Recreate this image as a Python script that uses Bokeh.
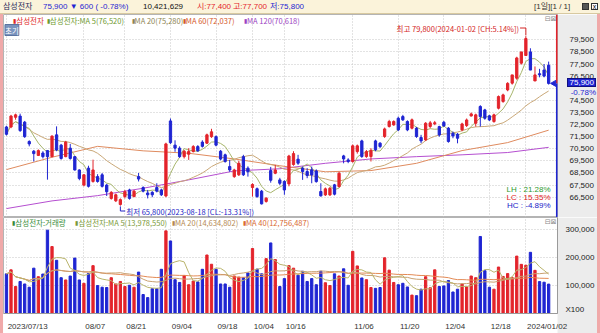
import numpy as np
import pandas as pd
from bokeh.plotting import figure
from bokeh.models import (Range1d, FixedTicker, NumeralTickFormatter, Label, Div,
                          ColumnDataSource, CustomJSTickFormatter, AllLabels)
from bokeh.layouts import column, row
from bokeh.embed import file_html
from bokeh.resources import INLINE

# ---------------- data ----------------
stock_name = "삼성전자"
date_idx = [0, 17, 26, 36, 46, 54, 61, 76, 86, 96, 106, 114]
date_labels = ["2023/07/13", "08/07", "08/21", "09/04", "09/18", "10/04",
               "10/16", "11/06", "11/20", "12/04", "12/18", "2024/01/02"]
price_ticks = [66500, 67500, 68500, 69500, 70500, 71500, 72500, 73500,
               74500, 75500, 76500, 77500, 78500, 79500]
vol_ticks = [100000, 200000, 300000]

opens = [72300, 72300, 73100, 73200, 72700, 71100, 70300, 69950, 70150, 70350,
         69850, 71650, 70800, 69850, 70550, 69850, 68750, 67500, 68900, 67800,
         68200, 68350, 67500, 66400, 66200, 65900, 66550, 67100, 66550, 68200,
         67300, 66850, 66900, 67300, 67100, 66600, 72800, 70800, 70550, 69850,
         70050, 70270, 70680, 71050, 70960, 71500, 71500, 70300, 70000, 69030,
         68200, 68350, 69850, 68900, 67300, 67200, 67000, 66150, 68700, 68480,
         67930, 67800, 67600, 69200,
         69640, 68900, 68620, 68760, 68670, 66970, 66690, 66690, 67520, 67380,
         69910, 69580, 69450, 70270, 71150, 69860, 69860, 71150, 70960, 71510,
         72340, 72470, 73020, 73160, 72750, 72200, 72200, 71430, 71230, 72340,
         72560, 72330, 72690, 72200, 71780, 71700, 72060, 72420, 73210, 72610,
         73990, 73710, 73220, 72750, 73850, 74400, 75360, 75920, 76330, 77570,
         78200, 78500, 76100, 76700, 77000, 77400]
highs = [72400, 73300, 73400, 73400, 72800, 71200, 70400, 70450, 70300, 70400,
         71600, 72350, 70900, 71150, 70900, 69900, 68800, 68400, 69100, 69600,
         68400, 68500, 67600, 67000, 66800, 66400, 67100, 67200, 67100, 68500,
         67400, 67100, 67000, 67650, 67200, 71000, 73000, 71200, 70700, 70400,
         70550, 70800, 70800, 71200, 71750, 72150, 71600, 70400, 70100, 69580,
         68850, 69500, 70000, 69050, 67650, 67300, 67100, 66500, 69000, 69170,
         68100, 67900, 70000, 70300,
         70000, 69030, 68900, 69030, 68800, 67650, 67300, 67350, 67600, 68600,
         70000, 69720, 70850, 70850, 71250, 70400, 70550, 71250, 71050, 72250,
         72890, 72850, 73160, 73300, 72850, 73000, 72300, 71650, 72700, 72800,
         72800, 72400, 72800, 72300, 71920, 71800, 72650, 73000, 73490, 73400,
         74100, 73800, 73300, 73400, 74900, 75050, 76000, 76600, 78100, 78500,
         79800, 78800, 77300, 77100, 77500, 77700]
lows = [71600, 72200, 72900, 71900, 71400, 70700, 69450, 69900, 69700, 67950,
        69800, 70300, 69600, 69800, 69600, 68700, 67900, 67400, 67300, 67700,
        67700, 67300, 66600, 66300, 66100, 65800, 66400, 66300, 66500, 67800,
        66900, 66400, 66500, 66900, 66600, 66500, 70900, 70250, 69750, 69700,
        69580, 70200, 70250, 70600, 70900, 71400, 70700, 69550, 69350, 68600,
        68100, 68250, 68250, 68200, 66550, 66450, 65900, 66050, 67700, 68400,
        67500, 66700, 67400, 69100,
        69170, 67930, 68070, 67650, 67700, 66550, 66600, 66600, 66650, 67300,
        69300, 69310, 69350, 70100, 69750, 69750, 69450, 70300, 70550, 71400,
        72250, 72400, 71950, 72800, 71950, 72100, 71400, 70960, 71150, 72200,
        72450, 71500, 72300, 71000, 71370, 70950, 71950, 72300, 73160, 72330,
        72330, 72900, 72800, 72650, 73750, 74300, 75250, 75800, 76200, 77450,
        78200, 77000, 76100, 76400, 76400, 75800]
closes = [71700, 73200, 73300, 72000, 71500, 70900, 70100, 70350, 69850, 69850,
          71550, 70400, 69700, 71050, 69700, 68750, 68050, 68350, 67400, 68750,
          67800, 67400, 66950, 66900, 66700, 66300, 66950, 66400, 67000, 68000,
          67000, 66700, 66700, 67000, 66700, 70900, 71000, 70550, 69850, 70300,
          70270, 70680, 70330, 70700, 71650, 71900, 70800, 69650, 69450, 68750,
          68750, 69300, 68350, 68600, 67550, 66550, 65950, 66420, 67900, 68750,
          67650, 67100, 69900, 70100,
          69310, 68620, 68290, 68340, 67790, 66610, 67190, 67240, 66750, 68480,
          69660, 69450, 70740, 70740, 69860, 70270, 70350, 70410, 70680, 72140,
          72750, 72750, 72060, 72890, 72060, 72890, 71510, 71150, 72610, 72640,
          72650, 71640, 72390, 71100, 71560, 71370, 72550, 72880, 73380, 73300,
          73160, 73020, 72880, 73300, 74810, 74950, 75900, 76600, 78000, 78500,
          79600, 77000, 76600, 76600, 76500, 75900]
# volume in units of 100 shares
volumes = [140700, 155000, 95600, 113600, 104600, 93000, 161000, 130500, 140000, 296600,
           238000, 189000, 127000, 119000, 133000, 197000, 119000, 107000, 141600, 170000,
           99000, 93000, 92000, 127000, 104600, 113600, 95600, 100000, 93000, 147000,
           67000, 56000, 88000, 88000, 157000, 294000, 258000, 120000, 110000, 135000,
           102000, 115000, 112000, 157000, 208000, 175000, 157000, 104600, 104600, 93000,
           133000, 129000, 127000, 144000, 231000, 157600, 140700, 195000, 251000, 191500,
           95600, 123700, 170000, 161000,
           136000, 150000, 113600, 123700, 102000, 150000, 109000, 99000, 140700, 133000,
           158700, 100000, 221000, 169000, 126000, 120000, 92000, 89000, 92000, 198000,
           154000, 110000, 102000, 107000, 94000, 65000, 63000, 86000, 130500, 91000,
           155000, 95600, 97600, 117000, 76000, 86000, 104600, 94000, 133000, 127000,
           274000, 152000, 93000, 86000, 165000, 131500, 141600, 127000, 204000, 174600,
           171428.47, 217536.44, 153244.39, 113043.16, 110887.24, 104216.29]
# long moving averages at every 10th session
ma60_idx = [0, 10, 20, 30, 40, 50, 60, 70, 80, 90, 100, 110, 119]
ma60_val = [68780, 69800, 70700, 70330, 70130, 69660, 69100, 68600, 68700, 69300, 70350, 71010, 72037]
ma120_idx = [0, 10, 20, 30, 40, 50, 60, 70, 80, 90, 100, 110, 119]
ma120_val = [65560, 66195, 66630, 67240, 67930, 68670, 68850, 69300, 69660, 69850, 70000, 70190, 70618]
hi_date = "2024-01-02"
lo_date = "2023-08-18"
legend_price = ["삼성전자", "삼성전자:MA 5(76,520)", "MA 20(75,280)", "MA 60(72,037)", "MA 120(70,618)"]
legend_vol = ["삼성전자:거래량", "삼성전자:MA 5(13,978,550)", "MA 20(14,634,802)", "MA 40(12,756,487)"]
vol_unit_label = "X100"

# ---------------- styling / layout helpers ----------------
RED = "#e3232b"
BLUE = "#1f25d2"
PINK = "#f0a9a9"
GRAYBG = "#ececec"
GRID = "#c6c6c6"
KR = "Noto Sans CJK KR"
LAT = "Liberation Sans"
MA5C, MA20C, MA60C, MA120C = "#a7b56c", "#c9a777", "#df8b5f", "#b54fd0"
VMA5C, VMA20C, VMA40C = "#b9b46c", "#c9a070", "#e38a55"

PX0, PXS = 6.0, 4.622          # page x of first session, px per session


def xi(px):
    return (px - PX0) / PXS


def yp(py):                    # page y -> price
    return 79500 - (py - 39.3) * 82.59


def py_of(price):              # price -> page y
    return 39.3 + (79500 - price) / 82.59


def yv(py):                    # page y -> volume
    return (317.8 - py) / 0.000295


X_START, X_END = xi(3), xi(565)

n = len(closes)
idx = np.arange(n)
o = np.array(opens, float)
c = np.array(closes, float)
h = np.array(highs, float)
l = np.array(lows, float)
vol = np.array(volumes, float)
colors = np.where(c >= o, RED, BLUE)
src = ColumnDataSource(dict(x=idx, top=np.maximum(o, c), bot=np.minimum(o, c), h=h, l=l,
                            color=colors, vol=vol))

ma5 = pd.Series(c).rolling(5, min_periods=1).mean()
ma20 = pd.Series(c).rolling(20, min_periods=1).mean()
vma5 = pd.Series(vol).rolling(5, min_periods=1).mean()
vma20 = pd.Series(vol).rolling(20, min_periods=1).mean()
vma40 = pd.Series(vol).rolling(40, min_periods=1).mean()


def lab(fig, x, y, text, color, size="7.5px", font=KR, align="left", **kw):
    fig.add_layout(Label(x=x, y=y, text=text, text_color=color, text_font_size=size,
                         text_font=font, text_align=align, text_baseline="middle", **kw))


# ---------------- price pane ----------------
p = figure(width=594, height=203, x_range=Range1d(X_START, X_END),
           y_range=Range1d(yp(217), yp(14)), x_axis_location=None, y_axis_location="right",
           toolbar_location=None, output_backend="svg",
           min_border_left=0, min_border_right=32, min_border_top=0, min_border_bottom=0,
           border_fill_color=GRAYBG, background_fill_color="white", outline_line_color="#b4b4b4")
p.xgrid.ticker = FixedTicker(ticks=date_idx)
p.ygrid.ticker = FixedTicker(ticks=price_ticks)
for g in (p.xgrid, p.ygrid):
    g.grid_line_color = GRID
    g.grid_line_dash = "1 2"
ax = p.yaxis[0]
ax.ticker = FixedTicker(ticks=[t for t in price_ticks if abs(t - c[-1]) > 450])
ax.formatter = NumeralTickFormatter(format="0,0")
ax.major_tick_line_color = None
ax.minor_tick_line_color = None
ax.axis_line_color = None
ax.major_label_standoff = 6
ax.major_label_text_font = LAT
ax.major_label_text_font_size = "8px"
ax.major_label_text_color = "#222222"

p.line(ma120_idx, ma120_val, color=MA120C, line_width=1)
p.line(ma60_idx, ma60_val, color=MA60C, line_width=1)
p.line(idx, ma20, color=MA20C, line_width=1)
p.line(idx, ma5, color=MA5C, line_width=1)
p.segment(x0="x", y0="l", x1="x", y1="h", line_color="color", line_width=1, source=src)
p.vbar(x="x", width=0.5, top="top", bottom="bot", fill_color="color", line_color="color",
       line_width=1, source=src)

# current price marker on the right edge
last = c[-1]
p.segment(x0=[X_END - 0.12], y0=[last], x1=[X_END - 0.12], y1=[yp(14)], line_color=RED, line_width=2)
p.segment(x0=[X_END - 0.12], y0=[yp(217)], x1=[X_END - 0.12], y1=[last], line_color=BLUE, line_width=2)
p.scatter(x=[xi(561.5)], y=[last], marker="triangle", angle=np.pi / 2, size=6,
          fill_color=BLUE, line_color=BLUE)

# legend
ly = yp(19.5)
pcols = ["#e02828", "#6f9a30", "#8e8452", "#d4582a", "#9c3fc2"]
psq = [13, 47, 133, 185, 247]
for s, col, px in zip(legend_price, pcols, psq):
    lab(p, xi(px), ly, "▮", col, size="6px")
    lab(p, xi(px + 3), ly, s, col)
lab(p, xi(4.5), yp(29.5), "초기", "white", size="7.5px", background_fill_color="#7a93bd",
    border_line_color="#5a73a0")
lab(p, xi(552), yp(18.5), "⊟⊠", "#8a8a8a", size="7px", font="DejaVu Sans")

# high / low annotations
hi_i = int(np.argmax(h)); lo_i = int(np.argmin(l))
hi, lo = h[hi_i], l[lo_i]
ch = (hi / last - 1) * 100
cl = (lo / last - 1) * 100
lab(p, xi(526), yp(27.5), f"최고 {hi:,.0f}({hi_date} [CH:{ch:.2f}%])", "#d42424", align="right")
p.line([xi(527), hi_i, hi_i], [yp(27.5), yp(27.5), hi + 60], color="#d42424", line_width=1)
lab(p, xi(127.5), yp(210.5), f"최저 {lo:,.0f}({lo_date} [CL:{cl:.2f}%])", "#2424c4")
p.line([lo_i, lo_i, xi(126.5)], [lo - 60, yp(210.5), yp(210.5)], color="#2424c4", line_width=1)

lh = (hi / lo - 1) * 100
lc = (last / lo - 1) * 100
hc = (last / hi - 1) * 100
lab(p, xi(558), yp(188.5), f"LH : {lh:.2f}%", "#2e9a2e", size="8px", font=LAT, align="right")
lab(p, xi(558), yp(196.8), f"LC : {lc:.2f}%", "#e02222", size="8px", font=LAT, align="right")
lab(p, xi(558), yp(205.2), f"HC : {hc:.2f}%", "#2222c8", size="8px", font=LAT, align="right")

prev = c[-2]
pct = (last - prev) / prev * 100

# ---------------- volume pane ----------------
v = figure(width=594, height=116, x_range=p.x_range, y_range=Range1d(yv(318), yv(217)),
           y_axis_location="right", toolbar_location=None, output_backend="svg",
           min_border_left=0, min_border_right=32, min_border_top=0, min_border_bottom=15,
           border_fill_color=GRAYBG, background_fill_color="white", outline_line_color="#b4b4b4")
v.xgrid.ticker = FixedTicker(ticks=date_idx)
v.ygrid.ticker = FixedTicker(ticks=vol_ticks)
for g in (v.xgrid, v.ygrid):
    g.grid_line_color = GRID
    g.grid_line_dash = "1 2"

unit_pos = yv(313.5)
vy = v.yaxis[0]
vy.ticker = FixedTicker(ticks=vol_ticks + [unit_pos])
vy.formatter = CustomJSTickFormatter(args=dict(up=unit_pos, ul=vol_unit_label), code="""
if (Math.abs(tick - up) < 1e-6) return ul;
return Math.round(tick).toLocaleString("en-US");
""")
vy.major_label_policy = AllLabels()
vy.major_tick_line_color = None
vy.minor_tick_line_color = None
vy.axis_line_color = "#9a9a9a"
vy.major_label_standoff = 2
vy.major_label_text_font = LAT
vy.major_label_text_font_size = "8px"
vy.major_label_text_color = "#222222"

# date labels start just right of their grid line
def text_w(s):
    return sum(2.22 if ch_ in "/" else 4.45 for ch_ in s)

lab_pos = [xi(PX0 + PXS * i0 + 1.5 + text_w(s) / 2) for i0, s in zip(date_idx, date_labels)]
vx = v.xaxis[0]
vx.ticker = FixedTicker(ticks=lab_pos)
vx.formatter = CustomJSTickFormatter(args=dict(pos=lab_pos, labs=date_labels), code="""
for (let k = 0; k < pos.length; k++) { if (Math.abs(pos[k] - tick) < 1e-6) return labs[k]; }
return "";
""")
vx.major_label_policy = AllLabels()
vx.major_tick_line_color = None
vx.minor_tick_line_color = None
vx.axis_line_color = "#9a9a9a"
vx.major_label_standoff = 2
vx.major_label_text_font = LAT
vx.major_label_text_font_size = "8px"
vx.major_label_text_color = "#333333"
try:
    vx.background_fill_color = "white"
except Exception:
    pass

v.vbar(x="x", width=0.5, top="vol", bottom=0, fill_color="color", line_color="color",
       line_width=1, source=src)
v.line(idx, vma40, color=VMA40C, line_width=1)
v.line(idx, vma20, color=VMA20C, line_width=1)
v.line(idx, vma5, color=VMA5C, line_width=1)

vly = yv(222.3)
vcols = ["#3a8c3a", "#7c9a3a", "#b68a52", "#da6a32"]
vsq = [12, 76, 174, 246]
for s, col, px in zip(legend_vol, vcols, vsq):
    lab(v, xi(px), vly, "▮", col, size="6px")
    lab(v, xi(px + 3), vly, s, col)
lab(v, xi(552), yv(222), "⊟⊠", "#8a8a8a", size="7px", font="DejaVu Sans")

# ---------------- header ----------------
chg = last - prev
arrow = "▼" if chg < 0 else "▲"
hdr_col = BLUE if chg < 0 else RED
o_l, h_l, l_l = o[-1], h[-1], l[-1]


def pc(x):
    return RED if x > prev else (BLUE if x < prev else "#222")


spans = [
    (3, "#2a2a5a", stock_name),
    (43, hdr_col, f"{last:,.0f} {arrow} {abs(chg):,.0f} ( {pct:.2f}%)"),
    (143, "#111111", f"{vol[-1] * 100:,.0f}"),
    (197, pc(o_l), f"시:{o_l:,.0f}"),
    (233, pc(h_l), f"고:{h_l:,.0f}"),
    (270, pc(l_l), f"저:{l_l:,.0f}"),
    (534, "#333333", "[1일][1 / 1]"),
]
inner = "".join(
    f'<span style="position:absolute;left:{x}px;top:0px;color:{col}">{t}</span>' for x, col, t in spans)
inner += ('<span style="position:absolute;left:582px;top:3px;width:7px;height:7px;background:#555;'
          'border:1px solid #333;box-sizing:border-box"></span>'
          '<span style="position:absolute;left:591px;top:3px;width:7px;height:7px;background:#fff;'
          'border:1px solid #333;box-sizing:border-box;font-size:7px;line-height:5px;text-align:center">x</span>')
header = Div(text=f'<div style="position:relative;width:600px;height:14px;font-family:{LAT},\'{KR}\';'
                  f'font-size:8px;line-height:13px;white-space:nowrap">{inner}</div>',
             width=600, height=14, margin=0,
             styles={"background-color": "#fbf3da", "border-bottom": "1px solid #d8c9a0",
                     "box-sizing": "border-box", "overflow": "hidden"})

# current-price box and change in the right axis strip (overlay from the right border)
box_top = py_of(last) - 14 - 4.5
pct_top = 92 - 14 - 4.5
overlay = (f'<div style="position:relative;width:3px;height:319px;font-family:{LAT};font-size:8px;'
           f'line-height:9px;white-space:nowrap">'
           f'<span style="position:absolute;left:-30px;top:{box_top:.1f}px;width:29px;height:9px;'
           f'background:{BLUE};color:white;text-align:right;padding-right:1px;'
           f'border:1px solid #101080;box-sizing:border-box;line-height:7px">{last:,.0f}</span>'
           f'<span style="position:absolute;left:-32px;top:{pct_top:.1f}px;width:31px;'
           f'color:{BLUE};text-align:right">{pct:.2f}%</span></div>')

left = Div(text="", width=3, height=319, margin=0, styles={"background-color": PINK})
right = Div(text=overlay, width=3, height=319, margin=0,
            styles={"background-color": PINK, "overflow": "visible", "z-index": "20"})
page = column(header, row(left, column(p, v, spacing=0), right, spacing=0), spacing=0)

open("out.html", "w").write(file_html(page, INLINE))
